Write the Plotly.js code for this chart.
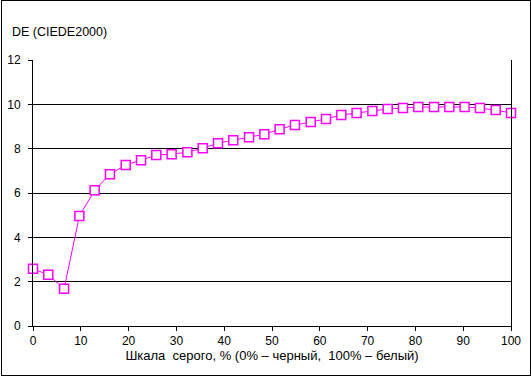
<!DOCTYPE html>
<html>
<head>
<meta charset="utf-8">
<script src="https://cdn.plot.ly/plotly-3.0.1.min.js"></script>
<style>
html,body{margin:0;padding:0;background:#fff;}
#wrap{position:relative;width:531px;height:377px;}
#chart{position:absolute;left:0;top:0;width:531px;height:377px;}
#frame{position:absolute;left:1px;top:0px;width:530px;height:376px;box-sizing:border-box;border:1px solid #000;pointer-events:none;}
</style>
</head>
<body>
<div id="wrap"><div id="chart"></div><div id="frame"></div></div>
<script>
const grayPercent = [0, 3.2, 6.5, 9.7, 12.9, 16.1, 19.4, 22.6, 25.8, 29.0, 32.3, 35.5, 38.7, 41.9, 45.2, 48.4,
  51.6, 54.8, 58.1, 61.3, 64.5, 67.7, 71.0, 74.2, 77.4, 80.6, 83.9, 87.1, 90.3, 93.5, 96.8, 100];
const deltaE = [2.58, 2.31, 1.68, 4.96, 6.12, 6.85, 7.26, 7.48, 7.71, 7.75, 7.84, 8.02, 8.25, 8.38, 8.52, 8.65,
  8.88, 9.07, 9.20, 9.34, 9.52, 9.61, 9.70, 9.79, 9.83, 9.88, 9.88, 9.88, 9.88, 9.83, 9.74, 9.61];
const xTicks = [0, 10, 20, 30, 40, 50, 60, 70, 80, 90, 100];
const yTicks = [0, 2, 4, 6, 8, 10, 12];
const yTitle = 'DE (CIEDE2000)';
const xTitle = 'Шкала  серого, % (0% – черный,  100% – белый)';

const font = {family: 'Liberation Sans, Arial, sans-serif', size: 12, color: '#000'};

Plotly.newPlot('chart', [{
  x: grayPercent, y: deltaE, type: 'scatter', mode: 'lines+markers',
  line: {color: '#FF00FF', width: 1},
  marker: {symbol: 'square', size: 9, color: '#FFFFFF', line: {color: '#FF00FF', width: 1.5}},
  cliponaxis: false, hoverinfo: 'none'
}], {
  width: 531, height: 377,
  margin: {l: 33, r: 20, t: 60, b: 51},
  paper_bgcolor: '#fff', plot_bgcolor: '#fff',
  font: font, showlegend: false,
  xaxis: {
    range: [0, 100], tickvals: xTicks, ticktext: xTicks.map(String),
    showgrid: false, zeroline: false, showline: true, linecolor: '#000', linewidth: 1,
    ticks: 'outside', ticklen: 4, tickcolor: '#000', tickfont: font,
    title: {text: xTitle, font: {family: font.family, size: 13, color: '#000'}, standoff: 3}
  },
  yaxis: {
    range: [0, 12], tickvals: yTicks, ticktext: yTicks.map(String),
    showgrid: true, gridcolor: '#000', gridwidth: 1, zeroline: false,
    showline: true, linecolor: '#000', linewidth: 1, mirror: true,
    ticks: 'outside', ticklen: 4, tickcolor: '#000', tickfont: font, ticklabelstandoff: 5
  },
  annotations: [{
    text: yTitle, xref: 'paper', yref: 'paper', x: -23/478, y: 1 + 28/266,
    xanchor: 'left', yanchor: 'middle', showarrow: false,
    font: {family: font.family, size: 12.5, color: '#000'}
  }]
}, {staticPlot: true});
</script>
</body>
</html>
